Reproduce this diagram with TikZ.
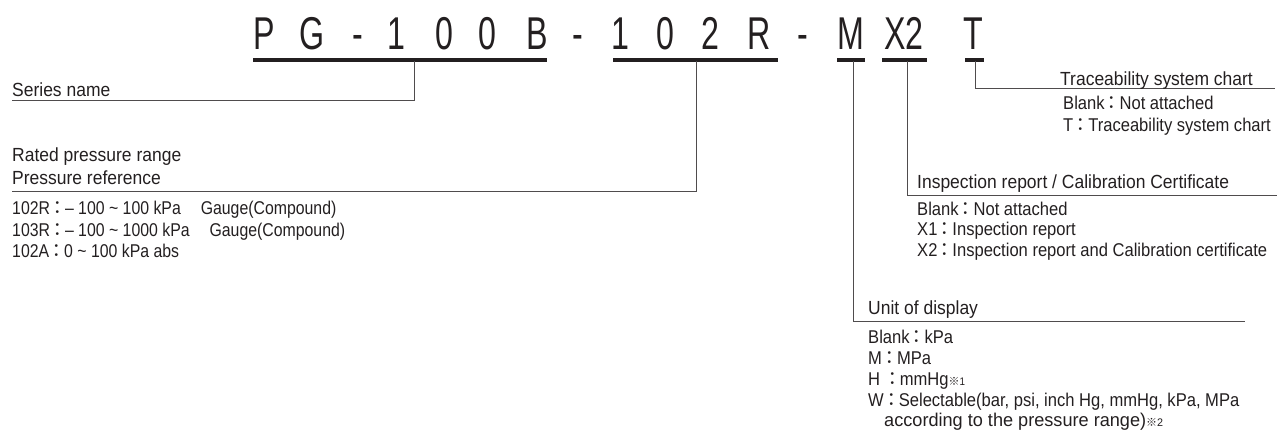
\documentclass[tikz,border=0pt]{standalone}
\usepackage{fontspec}
\setmainfont{Liberation Sans}
\newfontfamily\titlefont[FakeStretch=0.7]{Liberation Sans}
\newfontfamily\hfont[FakeStretch=0.92]{Liberation Sans}
\newfontfamily\ifont[FakeStretch=0.895]{Liberation Sans}
\newfontfamily\wfont[FakeStretch=0.98]{Liberation Sans}
\newfontfamily\lfont[FakeStretch=0.856]{Liberation Sans}
\newfontfamily\cjk{Noto Sans CJK JP}
\newcommand{\fwc}{\makebox[15pt][c]{\cjk ：}}
\newcommand{\kome}[1]{{\fontsize{11}{12}\selectfont{\cjk ※}#1}}
\definecolor{ink}{HTML}{231F20}
\begin{document}
\begin{tikzpicture}[x=1pt,y=-1pt,
  hdr/.style={anchor=base west, inner sep=0pt, font=\hfont\fontsize{19}{22}\selectfont, text=ink},
  itm/.style={anchor=base west, inner sep=0pt, font=\ifont\fontsize{18.5}{21}\selectfont, text=ink},
  witm/.style={anchor=base west, inner sep=0pt, font=\wfont\fontsize{18.5}{21}\selectfont, text=ink},
  litm/.style={anchor=base west, inner sep=0pt, font=\lfont\fontsize{18.5}{21}\selectfont, text=ink},
  big/.style={anchor=base, inner sep=0pt, font=\titlefont\fontsize{46}{50}\selectfont, text=ink},
  bar/.style={line width=3.5pt, draw=ink},
  conn/.style={line width=1pt, draw=ink!80}]
\useasboundingbox (0,0) rectangle (1280,430);
% title characters
\node[big] (c1) at (264,50) {P};
\node[big] (c2) at (312,50) {G};
\node[big] (c3) at (357.5,50) {-};
\node[big] (c4) at (396,50) {1};
\node[big] (c5) at (444.5,50) {0};
\node[big] (c6) at (487.5,50) {0};
\node[big] (c7) at (537,50) {B};
\node[big] (c8) at (578,50) {-};
\node[big] (c9) at (620,50) {1};
\node[big] (c10) at (665,50) {0};
\node[big] (c11) at (710,50) {2};
\node[big] (c12) at (759,50) {R};
\node[big] (c13) at (802.5,50) {-};
\node[big] (c14) at (851,50) {M};
\node[big] (c15) at (904,50) {X2};
\node[big] (c16) at (973,50) {T};
% underline bars
\draw[bar] (253,60) -- (547,60);
\draw[bar] (613,60) -- (778,60);
\draw[bar] (837,60) -- (865,60);
\draw[bar] (882,60) -- (927,60);
\draw[bar] (965,60) -- (984,60);
\coordinate (u1) at (414,61.5);
\coordinate (u2) at (696,61.5);
\coordinate (u3) at (853,61.5);
\coordinate (u4) at (907,61.5);
\coordinate (u5) at (975,61.5);
\coordinate (e1) at (12,101);
\coordinate (e2) at (12,192);
\coordinate (e3) at (1245,322);
\coordinate (e4) at (1277,196);
\coordinate (e5) at (1275,89);
% connectors
\draw[conn] (u1) |- (e1);
\draw[conn] (u2) |- (e2);
\draw[conn] (u3) |- (e3);
\draw[conn] (u4) |- (e4);
\draw[conn] (u5) |- (e5);
% left labels
\node[hdr] (sn) at (12,97) {Series name};
\node[hdr] (rp) at (12,162) {Rated pressure range};
\node[hdr] (pr) at (12,185) {Pressure reference};
\node[litm] (r1) at (12,215) {102R\fwc– 100 \textasciitilde{} 100 kPa\hspace{20pt}Gauge(Compound)};
\node[litm] (r2) at (12,236.5) {103R\fwc– 100 \textasciitilde{} 1000 kPa\hspace{20pt}Gauge(Compound)};
\node[litm] (r3) at (12,258) {102A\fwc 0 \textasciitilde{} 100 kPa abs};
% traceability
\node[hdr] (th) at (1060,86) {Traceability system chart};
\node[itm] (t1) at (1063,110) {Blank\fwc Not attached};
\node[itm] (t2) at (1063,131.5) {T\fwc Traceability system chart};
% inspection
\node[hdr] (ih) at (917,189) {Inspection report / Calibration Certificate};
\node[itm] (i1) at (917,215.5) {Blank\fwc Not attached};
\node[itm] (i2) at (917,236) {X1\fwc Inspection report};
\node[itm] (i3) at (917,256.5) {X2\fwc Inspection report and Calibration certificate};
% unit
\node[hdr] (uh) at (868,315) {Unit of display};
\node[itm] (d1) at (868,344) {Blank\fwc kPa};
\node[itm] (d2) at (868,364.5) {M\fwc MPa};
\node[itm] (d3) at (868,385) {H \fwc mmHg\kome{1}};
\node[itm] (d4) at (868,406) {W\fwc Selectable(bar, psi, inch Hg, mmHg, kPa, MPa};
\node[witm] (d5) at (884,426) {according to the pressure range)\kome{2}};
\end{tikzpicture}
\end{document}
